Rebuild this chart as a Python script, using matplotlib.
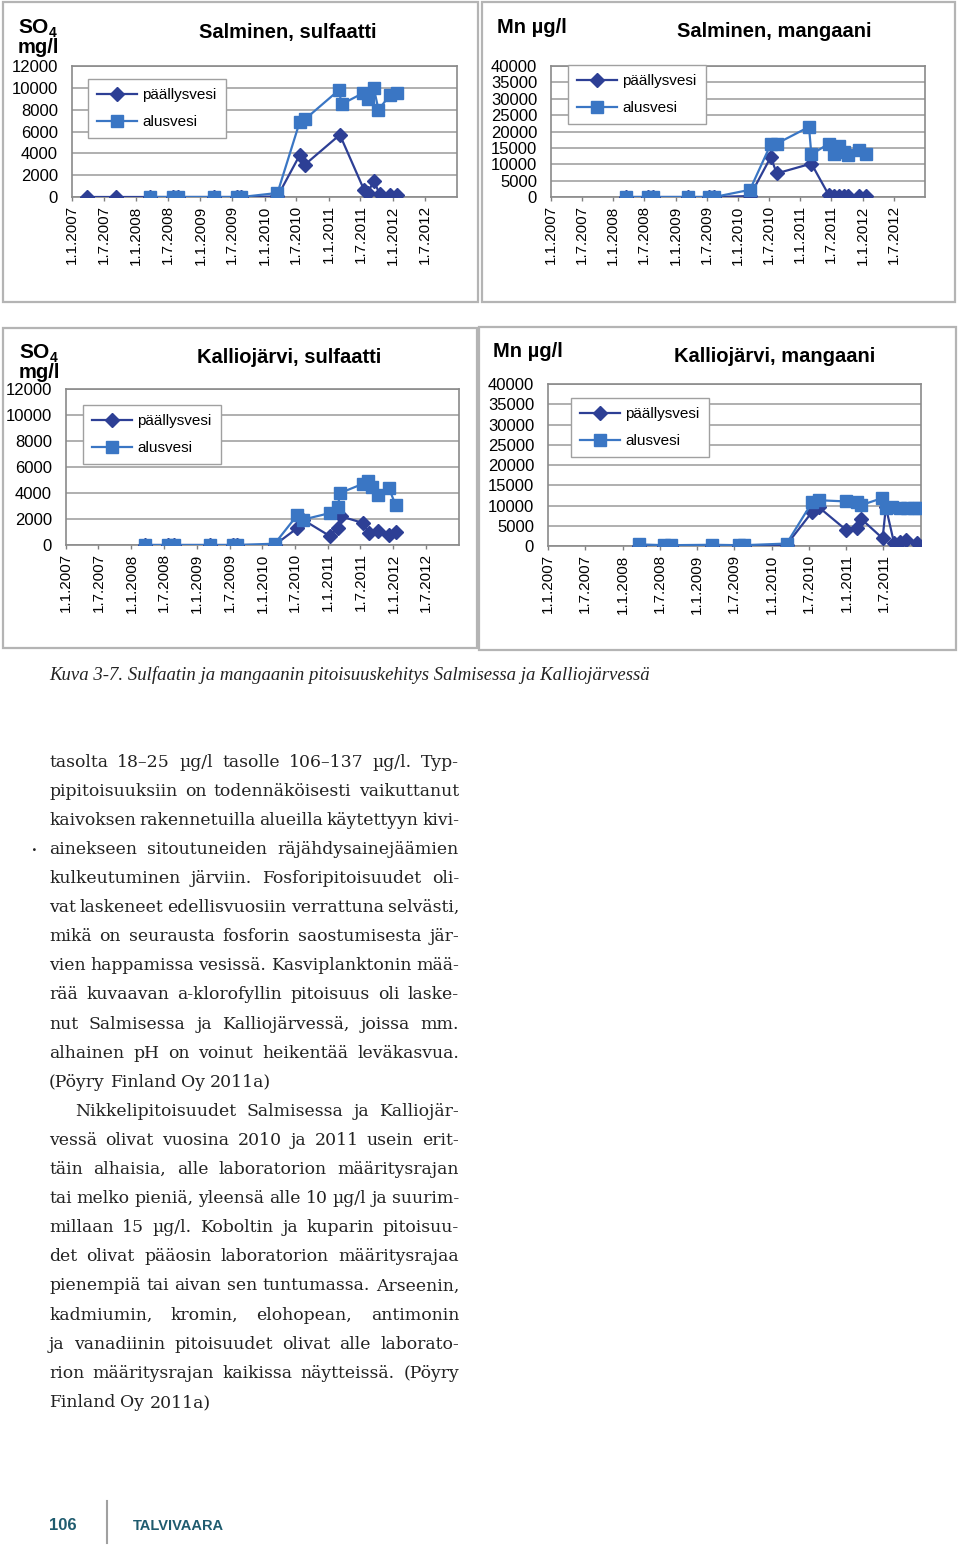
import numpy as np
import pandas as pd
import matplotlib
matplotlib.use('Agg')
import matplotlib.pyplot as plt
from matplotlib.patches import Rectangle
from matplotlib.lines import Line2D

W, H = 960, 1546

# ---- Salminen, sulfaatti (mg/l) ----
sal_so4_top_dates = ['2007-03-30', '2007-09-11', '2008-03-20', '2008-07-31', '2008-08-28',
                     '2009-03-20', '2009-07-26', '2009-08-23', '2010-03-16', '2010-07-21',
                     '2010-08-18', '2011-03-06', '2011-07-22', '2011-08-12', '2011-09-15',
                     '2011-10-19', '2011-12-15', '2012-01-24']
sal_so4_top = [0, 0, 0, 0, 0, 0, 0, 0, 50, 3850, 2950, 5700, 650, 350, 1500, 250, 200, 200]
sal_so4_bot_dates = ['2008-03-20', '2008-07-31', '2008-08-28', '2009-03-20', '2009-07-26',
                     '2009-08-23', '2010-03-16', '2010-07-21', '2010-08-18', '2011-03-01',
                     '2011-03-16', '2011-07-14', '2011-08-12', '2011-09-15', '2011-10-12',
                     '2011-12-15', '2012-01-24']
sal_so4_bot = [0, 0, 0, 0, 0, 0, 370, 6900, 7100, 9800, 8500, 9500, 9000, 10000, 8000, 9300, 9500]

# ---- Salminen, mangaani (ug/l) ----
sal_mn_top_dates = ['2008-03-17', '2008-07-23', '2008-08-20', '2009-03-13', '2009-07-17',
                    '2009-08-15', '2010-03-12', '2010-07-12', '2010-08-16', '2011-03-07',
                    '2011-06-18', '2011-07-17', '2011-08-15', '2011-09-13', '2011-10-08',
                    '2011-12-10', '2012-01-19']
sal_mn_top = [0, 0, 0, 0, 0, 0, 300, 12200, 7200, 10200, 500, 400, 400, 400, 400, 300, 300]
sal_mn_bot_dates = ['2008-03-17', '2008-07-23', '2008-08-20', '2009-03-13', '2009-07-17',
                    '2009-08-15', '2010-03-12', '2010-07-12', '2010-08-16', '2011-02-21',
                    '2011-03-07', '2011-06-18', '2011-07-17', '2011-08-15', '2011-09-13',
                    '2011-10-08', '2011-12-10', '2012-01-19']
sal_mn_bot = [0, 0, 0, 0, 0, 0, 2200, 16100, 16300, 21400, 13000, 16300, 13000, 15600, 13700,
              12700, 14500, 13000]

# ---- Kalliojarvi, sulfaatti (mg/l) ----
kal_so4_top_dates = ['2008-03-16', '2008-07-24', '2008-08-24', '2009-03-16', '2009-07-20',
                     '2009-08-12', '2010-03-10', '2010-07-14', '2010-08-14', '2011-01-10',
                     '2011-02-25', '2011-03-15', '2011-07-14', '2011-08-16', '2011-10-06',
                     '2011-12-06', '2012-01-13']
kal_so4_top = [0, 0, 0, 0, 0, 0, 0, 1300, 1950, 700, 1300, 2200, 1700, 950, 1100, 800, 1000]
kal_so4_bot_dates = ['2008-03-16', '2008-07-24', '2008-08-24', '2009-03-16', '2009-07-20',
                     '2009-08-12', '2010-03-10', '2010-07-14', '2010-08-14', '2011-01-10',
                     '2011-02-25', '2011-03-10', '2011-07-14', '2011-08-11', '2011-09-04',
                     '2011-10-06', '2011-12-06', '2012-01-13']
kal_so4_bot = [0, 0, 0, 0, 0, 0, 100, 2300, 1950, 2450, 2950, 4000, 4700, 4900, 4450, 3850,
               4400, 3100]

# ---- Kalliojarvi, mangaani (ug/l) ----
kal_mn_top_dates = ['2008-03-20', '2008-07-23', '2008-08-24', '2009-03-16', '2009-07-24',
                    '2009-08-18', '2010-03-14', '2010-07-17', '2010-08-18', '2011-01-01',
                    '2011-02-22', '2011-03-14', '2011-06-27', '2011-07-13', '2011-08-22',
                    '2011-09-20', '2011-10-20', '2011-12-12']
kal_mn_top = [0, 0, 0, 0, 0, 0, 300, 8400, 9600, 3900, 4400, 6700, 1900, 9600, 750, 1000, 1400, 750]
kal_mn_bot_dates = ['2008-03-20', '2008-07-23', '2008-08-24', '2009-03-16', '2009-07-24',
                    '2009-08-18', '2010-03-14', '2010-07-17', '2010-08-18', '2011-01-01',
                    '2011-02-22', '2011-03-14', '2011-06-24', '2011-07-13', '2011-08-12',
                    '2011-09-22', '2011-10-24', '2011-11-26', '2011-12-24']
kal_mn_bot = [400, 200, 200, 300, 200, 200, 600, 10800, 11300, 11000, 10800, 10100, 11800, 9500,
              9600, 9500, 9400, 9300, 9300]

series_names = ['päällysvesi', 'alusvesi']
caption = 'Kuva 3-7. Sulfaatin ja mangaanin pitoisuuskehitys Salmisessa ja Kalliojärvessä'

body_lines = [
    'tasolta 18–25 µg/l tasolle 106–137 µg/l. Typ-',
    'pipitoisuuksiin on todennäköisesti vaikuttanut',
    'kaivoksen rakennetuilla alueilla käytettyyn kivi-',
    'ainekseen sitoutuneiden räjähdysainejäämien',
    'kulkeutuminen järviin. Fosforipitoisuudet oli-',
    'vat laskeneet edellisvuosiin verrattuna selvästi,',
    'mikä on seurausta fosforin saostumisesta jär-',
    'vien happamissa vesissä. Kasviplanktonin mää-',
    'rää kuvaavan a-klorofyllin pitoisuus oli laske-',
    'nut Salmisessa ja Kalliojärvessä, joissa mm.',
    'alhainen pH on voinut heikentää leväkasvua.',
    '(Pöyry Finland Oy 2011a)',
    'Nikkelipitoisuudet Salmisessa ja Kalliojär-',
    'vessä olivat vuosina 2010 ja 2011 usein erit-',
    'täin alhaisia, alle laboratorion määritysrajan',
    'tai melko pieniä, yleensä alle 10 µg/l ja suurim-',
    'millaan 15 µg/l. Koboltin ja kuparin pitoisuu-',
    'det olivat pääosin laboratorion määritysrajaa',
    'pienempiä tai aivan sen tuntumassa. Arseenin,',
    'kadmiumin, kromin, elohopean, antimonin',
    'ja vanadiinin pitoisuudet olivat alle laborato-',
    'rion määritysrajan kaikissa näytteissä. (Pöyry',
    'Finland Oy 2011a)',
]
last_of_par = [11, 22]
indent_lines = [12]

C_TOP = '#2d3f95'
C_BOT = '#3a76c4'
GRID = '#9a9a9a'
TEAL = '#1f5b6e'
SANS = 'Liberation Sans'
SERIF = 'Liberation Serif'
BODY = 'DejaVu Serif'


def fx(px):
    return px / W


def fy(py):
    return 1 - py / H


fig = plt.figure(figsize=(W / 100, H / 100), dpi=100)
fig.patch.set_facecolor('white')


def chart(frame, plot, title, tpos, unit, ymax, ystep, xend, top, bot, leg):
    l, t, r, b = frame
    fig.patches.append(Rectangle((fx(l), fy(b)), (r - l) / W, (b - t) / H,
                                 transform=fig.transFigure, fill=False,
                                 edgecolor='#b4b4b4', lw=1.6))
    pl, pt, pr, pb = plot
    ax = fig.add_axes([fx(pl), fy(pb), (pr - pl) / W, (pb - pt) / H])
    ax.plot(pd.to_datetime(top[0]), top[1], color=C_TOP, lw=1.6, marker='D', ms=7.5,
            label=series_names[0], zorder=3)
    ax.plot(pd.to_datetime(bot[0]), bot[1], color=C_BOT, lw=1.6, marker='s', ms=8,
            label=series_names[1], zorder=4)
    ticks = pd.date_range('2007-01-01', xend, freq='6MS')
    ax.set_xlim(pd.Timestamp('2007-01-01'), ticks[-1] + pd.DateOffset(months=6))
    ax.set_xticks(ticks)
    ax.set_xticklabels([f'{d.day}.{d.month}.{d.year}' for d in ticks], rotation=90,
                       fontsize=11, family=SANS)
    ax.set_ylim(0, ymax)
    ax.set_yticks(np.arange(0, ymax + 1, ystep))
    ax.set_yticklabels([str(v) for v in np.arange(0, ymax + 1, ystep)], fontsize=12,
                       family=SANS)
    ax.tick_params(axis='x', length=3, width=1, color='#808080', pad=3)
    ax.tick_params(axis='y', length=0, pad=10)
    ax.grid(axis='y', color=GRID, lw=1.1)
    ax.set_axisbelow(True)
    for s in ax.spines.values():
        s.set_color('#8a8a8a')
        s.set_linewidth(1.2)
    ax.legend(loc='upper left', bbox_to_anchor=(fx(leg[0]), fy(leg[1])),
              bbox_transform=fig.transFigure, borderaxespad=0, fancybox=False,
              edgecolor='#a0a0a0', framealpha=1, prop={'family': SANS, 'size': 11},
              handlelength=2.6, handletextpad=0.35, labelspacing=0.85, borderpad=0.6)
    fig.text(fx(tpos[0]), fy(tpos[1]), title, ha='center', va='baseline',
             fontsize=14.5, fontweight='bold', family=SANS)
    ux, uy = unit[1], unit[2]
    if unit[0] == 'so4':
        fig.text(fx(ux), fy(uy), 'SO', va='baseline', fontsize=15, fontweight='bold',
                 family=SANS)
        fig.text(fx(ux + 31), fy(uy + 4), '4', va='baseline', fontsize=10,
                 fontweight='bold', family=SANS)
        fig.text(fx(ux), fy(uy + 20), 'mg/l', va='baseline', fontsize=14.5,
                 fontweight='bold', family=SANS)
    else:
        fig.text(fx(ux), fy(uy), 'Mn µg/l', va='baseline', fontsize=14.5,
                 fontweight='bold', family=SANS)
    return ax


chart((3, 2, 478, 302), (72, 66, 457, 197), 'Salminen, sulfaatti', (288, 38),
      ('so4', 18, 33), 12000, 2000, '2012-07-01',
      (sal_so4_top_dates, sal_so4_top), (sal_so4_bot_dates, sal_so4_bot), (88, 79))
chart((482, 2, 955, 302), (551, 66, 925, 197), 'Salminen, mangaani', (774, 37),
      ('mn', 497, 33), 40000, 5000, '2012-07-01',
      (sal_mn_top_dates, sal_mn_top), (sal_mn_bot_dates, sal_mn_bot), (568, 65))
chart((3, 328, 477, 648), (66, 389, 459, 545), 'Kalliojärvi, sulfaatti', (289, 363),
      ('so4', 19, 358), 12000, 2000, '2012-07-01',
      (kal_so4_top_dates, kal_so4_top), (kal_so4_bot_dates, kal_so4_bot), (83, 405))
chart((479, 327, 956, 650), (548, 384, 921, 546), 'Kalliojärvi, mangaani', (775, 362),
      ('mn', 493, 357), 40000, 5000, '2011-07-01',
      (kal_mn_top_dates, kal_mn_top), (kal_mn_bot_dates, kal_mn_bot), (571, 398))

# caption
fig.text(fx(49), fy(680), caption, va='baseline', fontsize=13.5, style='italic',
         family=SERIF, color='#222222')

# body text, justified
r = fig.canvas.get_renderer()
x0, x1 = 49, 459
for i, line in enumerate(body_lines):
    y = 766.7 + i * 29.1
    left = x0 + (26 if i in indent_lines else 0)
    words = line.split(' ')
    arts = [fig.text(0, fy(y), w, va='baseline', fontsize=12.4, family=BODY,
                     color='#222222') for w in words]
    widths = [a.get_window_extent(r).width for a in arts]
    if i in last_of_par or len(words) == 1:
        gap = 5
    else:
        gap = max((x1 - left - sum(widths)) / (len(words) - 1), 2)
    x = left
    for a, w in zip(arts, widths):
        a.set_x(fx(x))
        x += w + gap

fig.text(fx(31), fy(851), '.', va='baseline', fontsize=15, family=BODY, color='#222222')

# footer
fig.text(fx(49), fy(1530), '106', va='baseline', fontsize=12, fontweight='bold',
         family=SANS, color=TEAL)
fig.lines.append(Line2D([fx(107), fx(107)], [fy(1501), fy(1543)], transform=fig.transFigure,
                        color='#a0a0a0', lw=1.5))
fig.text(fx(133), fy(1530), 'TALVIVAARA', va='baseline', fontsize=10.5, fontweight='bold',
         family=SANS, color=TEAL)

fig.savefig('out.png', dpi=100)
